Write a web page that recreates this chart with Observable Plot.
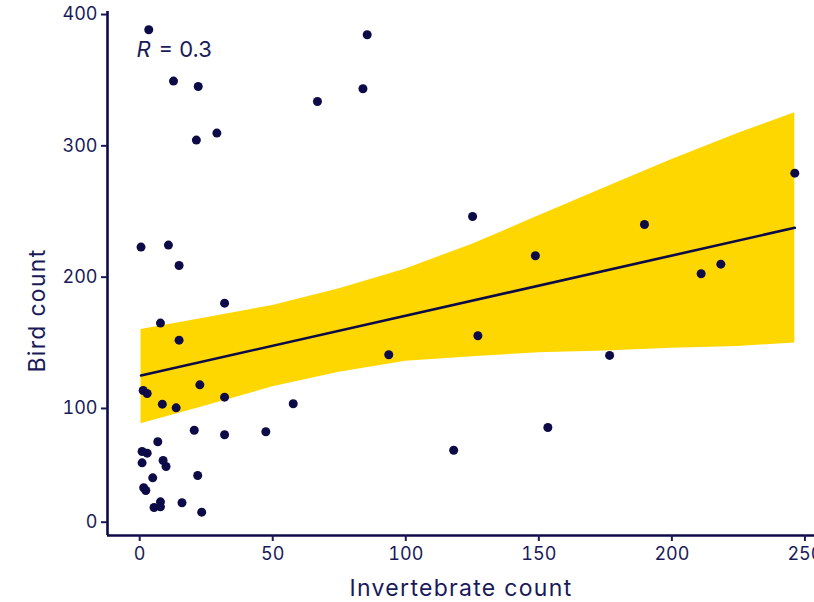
<!DOCTYPE html>
<html><head><meta charset="utf-8">
<script src="https://cdn.jsdelivr.net/npm/d3@7"></script>
<script src="https://cdn.jsdelivr.net/npm/@observablehq/plot@0.6"></script>
<style>
html,body{margin:0;padding:0;background:#fff;overflow:hidden}
</style>
</head><body><div id="chart"></div>
<script>
// Observations
const invertebrates = [3.4,12.7,22.0,21.3,29.0,0.5,10.8,14.8,31.9,7.8,14.8,22.6,31.9,1.3,2.8,8.5,13.7,57.7,20.5,31.9,47.4,6.8,0.9,2.8,0.9,8.8,9.9,4.9,21.8,1.5,2.3,7.8,5.4,7.8,15.9,23.3,93.6,127.1,176.6,118.0,153.4,85.5,83.9,66.8,125.1,148.7,189.7,211.0,218.4,246.2];
const birds = [388.4,349.3,345.2,304.4,309.7,222.9,224.4,208.9,180.2,165.0,152.0,118.0,108.6,113.7,111.4,103.3,100.5,103.6,80.9,76.9,79.5,70.7,62.2,60.7,52.2,54.3,49.0,39.0,41.1,30.3,27.9,17.9,12.9,13.5,17.1,8.8,140.9,155.4,140.4,63.3,83.3,384.6,343.5,333.8,246.2,216.3,240.1,202.6,209.9,279.2];
// Confidence band
const bandX = [0.5,25,50,75,100,125,150,175,200,225,246.2];
const bandLow = [86.5,102.1,116.5,127.5,136.0,139.4,142.4,143.8,145.9,147.2,149.9];
const bandHigh = [160.2,169.1,178.4,191.1,206.3,225.1,246.7,268.2,289.6,309.6,325.2];
// Fitted line
const fitX = [0.5, 246.2];
const fitY = [125.1, 237.6];
// Axes
const xTicks = [0,50,100,150,200,250];
const yTicks = [0,100,200,300,400];
const xDomain = [-12.1, 253.6];
const yDomain = [-11.7, 402.3];
const yBreak = 100;       // the drawn y axis is compressed below this value
const yLowFactor = 0.866; // spacing of the 0–100 interval relative to the others
const xLabel = "Invertebrate count";
const yLabel = "Bird count";
const rLabel = "R";
const rValue = "= 0.3";

const navy = "#0c0b48";
const textNavy = "#1a1a5a";
const yellow = "#ffd700";
const font = "Inter, 'Noto Sans', sans-serif";

// axis mapping of the reference (compressed below 100) and its inverse for tick labels
const yT = v => v < yBreak ? yBreak - (yBreak - v) * yLowFactor : v;
const yTinv = t => t < yBreak ? yBreak - (yBreak - t) / yLowFactor : t;

const points = invertebrates.map((x, i) => ({x, y: birds[i]}));
const band = bandX.map((x, i) => ({x, lo: bandLow[i], hi: bandHigh[i]}));
const fit = fitX.map((x, i) => ({x, y: fitY[i]}));

const chart = Plot.plot({
  width: 814,
  height: 602,
  marginTop: 11,
  marginBottom: 67,
  marginLeft: 107,
  marginRight: 0,
  style: {fontFamily: font, fontSize: "18px", color: textNavy, background: "white"},
  x: {domain: xDomain},
  y: {domain: yDomain.map(yT)},
  marks: [
    Plot.areaY(band, {x: "x", y1: d => yT(d.lo), y2: d => yT(d.hi), fill: yellow}),
    Plot.line(fit, {x: "x", y: d => yT(d.y), stroke: navy, strokeWidth: 2.6}),
    Plot.dot(points, {x: "x", y: d => yT(d.y), r: 4.5, fill: navy, stroke: "none"}),
    Plot.ruleY([yT(yDomain[0])], {stroke: navy, strokeWidth: 2.6}),
    Plot.ruleX([xDomain[0]], {stroke: navy, strokeWidth: 2.6}),
    Plot.axisX({ticks: xTicks, tickSize: 6, tickPadding: 6, strokeWidth: 2, label: null, fontSize: 18}),
    Plot.axisY({ticks: yTicks.map(yT), tickFormat: t => String(Math.round(yTinv(t))), tickSize: 6, tickPadding: 4, strokeWidth: 2, label: null, fontSize: 18}),
    Plot.text([xLabel], {frameAnchor: "bottom", dy: 60, lineAnchor: "bottom", fontSize: 23, fill: textNavy}),
    Plot.text([yLabel], {frameAnchor: "left", dx: -63, dy: 37, rotate: -90, textAnchor: "middle", lineAnchor: "bottom", fontSize: 23, fill: textNavy}),
    Plot.text([rLabel], {frameAnchor: "top-left", dx: 29, dy: 45, textAnchor: "start", lineAnchor: "bottom", fontSize: 22, fontStyle: "italic", fill: textNavy}),
    Plot.text([rValue], {frameAnchor: "top-left", dx: 51, dy: 45, textAnchor: "start", lineAnchor: "bottom", fontSize: 22, fill: textNavy})
  ]
});
d3.select(chart).selectAll("text")
  .filter(function() { return this.textContent === xLabel || this.textContent === yLabel; })
  .style("letter-spacing", "1.3px");
document.getElementById("chart").appendChild(chart);
</script>
</body></html>
